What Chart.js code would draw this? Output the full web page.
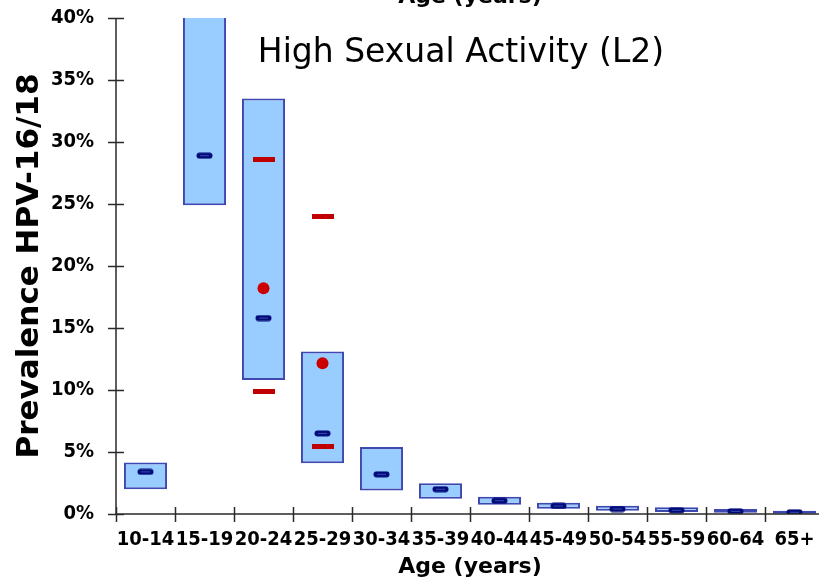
<!DOCTYPE html>
<html>
<head>
<meta charset="utf-8">
<script src="https://cdn.jsdelivr.net/npm/chart.js@4/dist/chart.umd.min.js"></script>
<style>
  html, body { margin: 0; padding: 0; background: #fff; overflow: hidden; }
  #wrap { position: relative; width: 819px; height: 585px; overflow: hidden; }
  canvas { position: absolute; left: 0; top: 0; }
  .txt { position: absolute; white-space: nowrap; font-family: 'DejaVu Sans', sans-serif; color: #000; transform: translateX(-50%); }
  #title { left: 461px; top: 31px; font-size: 33px; line-height: 40px; }
  #topAge { left: 470px; top: -17px; font-size: 22px; line-height: 26px; font-weight: bold; }
</style>
</head>
<body>
<div id="wrap">
  <canvas id="chart" width="830" height="585"></canvas>
  <div class="txt" id="topAge">Age (years)</div>
  <div class="txt" id="title">High Sexual Activity (L2)</div>
</div>
<script>
/* ── Data (percent) ── */
const AGES      = ['10-14', '15-19', '20-24', '25-29', '30-34', '35-39', '40-44', '45-49', '50-54', '55-59', '60-64', '65+'];
const BOX_LOW   = [2.0, 24.9, 10.8, 4.1, 1.9, 1.23, 0.75, 0.43, 0.27, 0.16, 0.10, 0.03];
const BOX_HIGH  = [4.15, 45, 33.5, 13.1, 5.4, 2.47, 1.4, 0.91, 0.67, 0.54, 0.40, 0.27];
const MODEL_MID = [3.4, 28.9, 15.8, 6.5, 3.2, 2.0, 1.07, 0.65, 0.40, 0.30, 0.22, 0.14];
const OBS_MEAN  = [null, null, 18.2, 12.15, null, null, null, null, null, null, null, null];
const OBS_UPPER = [null, null, 28.6, 24.0, null, null, null, null, null, null, null, null];
const OBS_LOWER = [null, null, 9.9, 5.45, null, null, null, null, null, null, null, null];
const Y_TICKS   = [0, 5, 10, 15, 20, 25, 30, 35, 40];

const FONT = "'DejaVu Sans', sans-serif";
const FONT_TICK = "'DejaVu Sans Condensed', 'DejaVu Sans', sans-serif";

/* ── Marker images ── */
function blueDash() {
  const c = document.createElement('canvas');
  c.width = 17; c.height = 7;
  const g = c.getContext('2d');
  g.fillStyle = '#000a7a';
  g.beginPath();
  g.roundRect(0.5, 0.5, 16, 6, 3);
  g.fill();
  g.fillStyle = '#3a4aa8';
  g.fillRect(4, 3, 9, 1);
  return c;
}

function redDash() {
  const c = document.createElement('canvas');
  c.width = 22; c.height = 5;
  const g = c.getContext('2d');
  g.fillStyle = '#c00000';
  g.fillRect(0, 0, 22, 5);
  return c;
}

/* ── Axis ticks that cross the axis lines ── */
const crossTicks = {
  id: 'crossTicks',
  afterDatasetsDraw(chart) {
    const { ctx, scales: { x, y }, chartArea } = chart;
    ctx.save();
    ctx.strokeStyle = '#2a2a2a';
    ctx.lineWidth = 1.5;
    ctx.beginPath();
    // axis lines
    ctx.moveTo(chartArea.left, chartArea.top);
    ctx.lineTo(chartArea.left, chartArea.bottom);
    ctx.moveTo(chartArea.left, chartArea.bottom);
    ctx.lineTo(chartArea.right, chartArea.bottom);
    // y ticks
    Y_TICKS.forEach(v => {
      const py = Math.round(y.getPixelForValue(v)) + 0.5;
      ctx.moveTo(chartArea.left - 8, py);
      ctx.lineTo(chartArea.left + 8, py);
    });
    // x ticks at category boundaries
    for (let i = 0; i <= AGES.length; i++) {
      const px = Math.round(x.getPixelForValue(i - 0.5)) + 0.5;
      ctx.moveTo(px, chartArea.bottom - 7);
      ctx.lineTo(px, chartArea.bottom + 8);
    }
    ctx.stroke();
    ctx.restore();
  }
};

new Chart(document.getElementById('chart'), {
  type: 'bar',
  data: {
    labels: AGES,
    datasets: [
      {
        type: 'line',
        data: OBS_MEAN,
        showLine: false,
        pointStyle: 'circle',
        pointRadius: 6,
        pointBackgroundColor: '#cc0000',
        pointBorderWidth: 0,
        order: 1
      },
      {
        type: 'line',
        data: OBS_UPPER,
        showLine: false,
        pointStyle: redDash(),
        order: 1
      },
      {
        type: 'line',
        data: OBS_LOWER,
        showLine: false,
        pointStyle: redDash(),
        order: 1
      },
      {
        type: 'line',
        data: MODEL_MID,
        showLine: false,
        pointStyle: blueDash(),
        order: 2
      },
      {
        type: 'bar',
        data: AGES.map((_, i) => [BOX_LOW[i], BOX_HIGH[i]]),
        backgroundColor: '#99ccff',
        borderColor: '#3f48b0',
        borderWidth: 2,
        borderSkipped: false,
        categoryPercentage: 1,
        barPercentage: 0.73,
        order: 3
      }
    ]
  },
  options: {
    responsive: false,
    animation: false,
    events: [],
    layout: { padding: { left: 0, right: 6, top: 18, bottom: 0 } },
    scales: {
      x: {
        offset: true,
        grid: { display: false, drawTicks: false },
        border: { display: false },
        ticks: {
          color: '#000',
          font: { family: FONT_TICK, size: 20, weight: 'bold' },
          padding: 14,
          maxRotation: 0,
          autoSkip: false
        },
        title: {
          display: true,
          text: 'Age (years)',
          color: '#000',
          font: { family: FONT, size: 22, weight: 'bold' },
          padding: { top: 0, bottom: 5 }
        },
        afterFit(s) { s.height = 71; s.paddingLeft = 0; s.paddingRight = 0; }
      },
      y: {
        min: 0,
        max: 40,
        afterBuildTicks(s) { s.ticks = Y_TICKS.map(v => ({ value: v })); },
        grid: { display: false, drawTicks: false },
        border: { display: false },
        ticks: {
          color: '#000',
          font: { family: FONT_TICK, size: 20, weight: 'bold' },
          padding: 22,
          callback: v => v + '%'
        },
        title: {
          display: true,
          text: 'Prevalence HPV-16/18',
          color: '#000',
          font: { family: FONT, size: 31, weight: 'bold' },
          padding: { top: 11, bottom: 0 }
        },
        afterFit(s) { s.width = 116; s.paddingTop = 0; s.paddingBottom = 0; }
      }
    },
    plugins: {
      legend: { display: false },
      tooltip: { enabled: false }
    }
  },
  plugins: [crossTicks]
});
</script>
</body>
</html>
